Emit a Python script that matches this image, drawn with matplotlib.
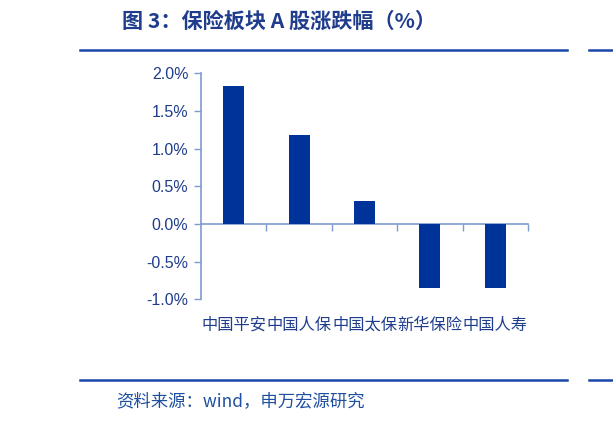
import matplotlib
matplotlib.use("Agg")
import matplotlib.pyplot as plt
from matplotlib.lines import Line2D
from matplotlib.ticker import FuncFormatter, FixedLocator

plt.rcParams['font.family'] = ['Noto Sans CJK SC', 'DejaVu Sans']

categories = ["中国平安", "中国人保", "中国太保", "新华保险", "中国人寿"]
values = [1.83, 1.18, 0.305, -0.846, -0.846]
yticks = [-1.0, -0.5, 0.0, 0.5, 1.0, 1.5, 2.0]
title = "图 3：保险板块 A 股涨跌幅（%）"
source = "资料来源：wind，申万宏源研究"

bar_color = "#003399"
text_color = "#1F3D8C"
spine_color = "#7F9BD0"
line_color = "#1A47A8"

fig = plt.figure(figsize=(6.13, 4.21), dpi=100)
ax = fig.add_axes([201/613, 1-299.3/421, (528-201)/613, (299.3-73.3)/421])

x = list(range(len(categories)))
ax.bar(x, values, width=0.32, color=bar_color, zorder=3)
ax.set_xlim(-0.5, len(categories)-0.5)
ax.set_ylim(-1.0, 2.0)

ax.yaxis.set_major_locator(FixedLocator(yticks))
ax.yaxis.set_major_formatter(FuncFormatter(lambda v, p: f"{v:.1f}%"))
for lab in ax.get_yticklabels():
    lab.set_fontfamily(['Liberation Sans', 'DejaVu Sans'])
ax.tick_params(axis='y', direction='out', length=5, width=1, color=spine_color,
               labelcolor=text_color, labelsize=11.5, pad=4)

# x axis at zero with ticks at category boundaries
ax.spines['top'].set_visible(False)
ax.spines['right'].set_visible(False)
ax.spines['bottom'].set_position(('data', 0))
ax.spines['bottom'].set_color(spine_color)
ax.spines['left'].set_color(spine_color)
ax.spines['bottom'].set_linewidth(1.2)
ax.spines['left'].set_linewidth(1.2)
ax.set_xticks([i + 0.5 for i in x])
ax.set_xticklabels([])
ax.tick_params(axis='x', direction='out', length=5, width=1, color=spine_color)
label_y = -1.0 - (325 - 299.3) / 75.3
for i, c in enumerate(categories):
    ax.text(i, label_y, c, ha='center', va='center',
            fontsize=11.7, color=text_color, clip_on=False)

fig.text(122/613, 1-21/421, title, fontsize=15.2, fontweight='bold',
         color=text_color, ha='left', va='center')
fig.text(116/613, 1-401/421, source, fontsize=12.5, color="#1F4FA0",
         ha='left', va='center')

for yy in (50, 380):
    yf = 1 - yy/421
    fig.add_artist(Line2D([80/613, 567/613], [yf, yf], color=line_color, lw=1.8,
                          transform=fig.transFigure))
    fig.add_artist(Line2D([589/613, 1.0], [yf, yf], color=line_color, lw=1.8,
                          transform=fig.transFigure))

fig.savefig("out.png", dpi=100)
